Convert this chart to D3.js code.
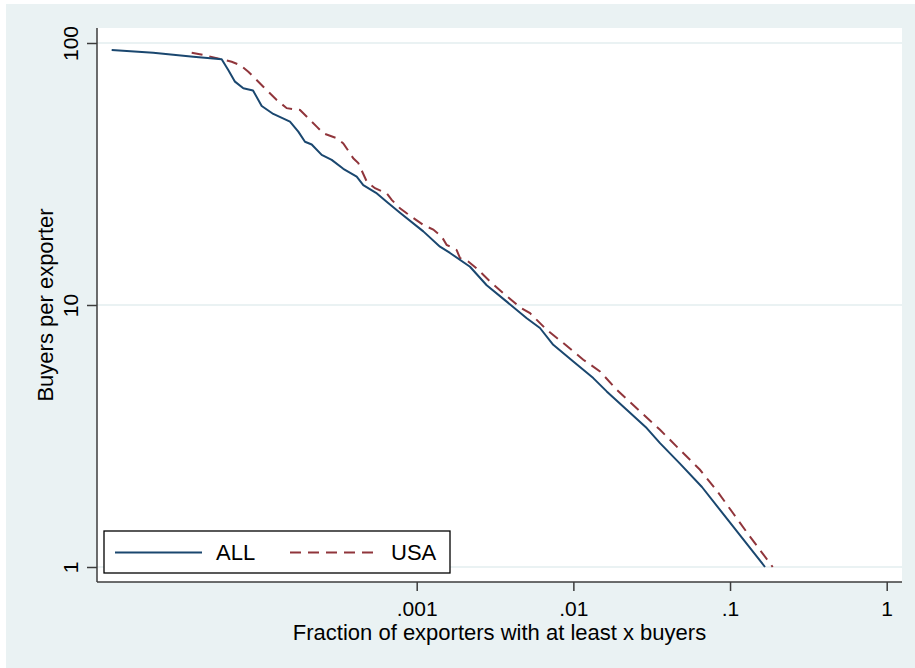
<!DOCTYPE html>
<html>
<head>
<meta charset="utf-8">
<script src="https://cdn.jsdelivr.net/npm/d3@7"></script>
<style>
  html, body { margin: 0; padding: 0; background: #ffffff; }
  svg { display: block; }
  text { font-family: "Liberation Sans", Arial, sans-serif; fill: #000; }
</style>
</head>
<body>
<svg id="chart" width="915" height="668"></svg>
<script>
// Complementary cumulative distribution of buyers per exporter (log-log)
// ALL destinations: fraction of exporters with at least x buyers
const allFraction = [1.13e-5, 2.08e-5, 3.75e-5, 5.69e-5, 6.27e-5, 6.92e-5, 7.82e-5, 9.02e-5,
  1.025e-4, 1.215e-4, 1.553e-4, 1.755e-4, 1.936e-4, 2.137e-4, 2.475e-4, 2.867e-4, 3.40e-4,
  4.14e-4, 4.56e-4, 5.50e-4, 6.43e-4, 7.82e-4, 1.102e-3, 1.408e-3, 1.631e-3, 2.189e-3,
  2.797e-3, 3.754e-3, 5.04e-3, 6.12e-3, 7.44e-3, 9.99e-3, 0.0134, 0.01632, 0.0219, 0.02938,
  0.03573, 0.0479, 0.0662, 0.1672];
const allBuyers = [94.0, 91.8, 88.7, 86.7, 78.9, 71.2, 67.2, 65.9,
  57.5, 53.6, 50.1, 45.9, 42.0, 41.0, 37.4, 35.8, 33.1,
  30.9, 28.7, 26.8, 24.8, 22.5, 19.1, 16.7, 15.8, 14.0,
  11.9, 10.3, 8.9, 8.17, 7.05, 6.09, 5.26, 4.68, 3.98, 3.39,
  2.97, 2.48, 2.02, 1.0];

// USA only
const usaFraction = [3.663e-5, 4.344e-5, 5.69e-5, 6.594e-5, 7.45e-5, 8.42e-5, 1.049e-4, 1.278e-4,
  1.48e-4, 1.8e-4, 2.3e-4, 2.533e-4, 3.086e-4, 3.40e-4, 3.937e-4, 4.239e-4, 4.797e-4, 5.418e-4,
  6.43e-4, 6.926e-4, 7.82e-4, 8.63e-4, 1.102e-3, 1.276e-3, 1.444e-3, 1.554e-3, 1.8e-3, 1.89e-3,
  2.135e-3, 2.415e-3, 2.937e-3, 3.571e-3, 4.564e-3, 5.287e-3, 6.757e-3, 8.62e-3, 0.01157,
  0.01479, 0.01891, 0.02663, 0.03573, 0.0479, 0.0643, 0.0822, 0.1049, 0.1341, 0.1872];
const usaBuyers = [91.8, 90.0, 86.7, 84.8, 82.4, 77.7, 68.1, 60.6,
  56.4, 55.5, 47.96, 45.2, 43.3, 41.4, 36.3, 34.8, 29.6, 27.9,
  26.7, 25.2, 23.4, 22.4, 20.2, 19.4, 18.25, 16.96, 16.2, 15.1,
  14.65, 13.8, 12.3, 11.1, 9.8, 9.31, 8.04, 7.16, 6.18,
  5.58, 4.75, 3.93, 3.34, 2.80, 2.35, 1.96, 1.60, 1.306, 1.0];

const xTicks = [0.001, 0.01, 0.1, 1];
const xTickLabels = [".001", ".01", ".1", "1"];
const yTicks = [1, 10, 100];
const yTickLabels = ["1", "10", "100"];
const seriesNames = ["ALL", "USA"];
const seriesColors = ["#1a476f", "#90353b"];

const svg = d3.select("#chart");
const W = 915, H = 668;

// outer graph region
svg.append("rect").attr("x", 6).attr("y", 4).attr("width", W - 6).attr("height", H - 4)
  .attr("fill", "#eaf2f3");

const plot = { left: 97, right: 902, top: 28, bottom: 582 };

const x = d3.scaleLog().domain([0.001, 1]).range([416.7, 886.7]);
const y = d3.scaleLog().domain([1, 100]).range([567, 43]);

// plot region
svg.append("rect")
  .attr("x", plot.left).attr("y", plot.top)
  .attr("width", plot.right - plot.left).attr("height", plot.bottom - plot.top)
  .attr("fill", "#ffffff");

// horizontal grid lines
svg.append("g").selectAll("line").data(yTicks).join("line")
  .attr("x1", plot.left).attr("x2", plot.right)
  .attr("y1", d => y(d)).attr("y2", d => y(d))
  .attr("stroke", "#eaf2f3").attr("stroke-width", 2);

// data lines
const line = d3.line().x(d => x(d[0])).y(d => y(d[1]));
const allData = allFraction.map((f, i) => [f, allBuyers[i]]);
const usaData = usaFraction.map((f, i) => [f, usaBuyers[i]]);

svg.append("path").datum(usaData)
  .attr("d", line).attr("fill", "none")
  .attr("stroke", seriesColors[1]).attr("stroke-width", 2)
  .attr("stroke-dasharray", "11,7");

svg.append("path").datum(allData)
  .attr("d", line).attr("fill", "none")
  .attr("stroke", seriesColors[0]).attr("stroke-width", 2)
  .attr("stroke-linejoin", "round");

// y axis
const yAxis = d3.axisLeft(y).tickValues(yTicks).tickSize(10).tickPadding(9)
  .tickFormat((d, i) => yTickLabels[i]);
const gy = svg.append("g").attr("transform", `translate(${plot.left},0)`).call(yAxis);
gy.select(".domain").remove();
gy.selectAll(".tick line").attr("stroke", "#3c3c3c").attr("stroke-width", 1.5);
gy.selectAll(".tick text")
  .attr("font-size", 21)
  .attr("font-family", "Liberation Sans, Arial, sans-serif")
  .attr("fill", "#000")
  .attr("text-anchor", "middle")
  .attr("x", null).attr("dy", null)
  .attr("transform", "translate(-19,0) rotate(-90)");
svg.append("line")
  .attr("x1", plot.left).attr("x2", plot.left)
  .attr("y1", plot.top).attr("y2", plot.bottom)
  .attr("stroke", "#3c3c3c").attr("stroke-width", 1.5);

// x axis
const xAxis = d3.axisBottom(x).tickValues(xTicks).tickSize(9).tickPadding(10)
  .tickFormat((d, i) => xTickLabels[i]);
const gx = svg.append("g").attr("transform", `translate(0,${plot.bottom})`).call(xAxis);
gx.select(".domain").remove();
gx.selectAll(".tick line").attr("stroke", "#3c3c3c").attr("stroke-width", 1.5);
gx.selectAll(".tick text")
  .attr("font-size", 21)
  .attr("font-family", "Liberation Sans, Arial, sans-serif")
  .attr("fill", "#000");
svg.append("line")
  .attr("x1", plot.left).attr("x2", plot.right)
  .attr("y1", plot.bottom).attr("y2", plot.bottom)
  .attr("stroke", "#3c3c3c").attr("stroke-width", 1.5);

// axis titles
svg.append("text")
  .attr("x", (plot.left + plot.right) / 2).attr("y", 640)
  .attr("text-anchor", "middle").attr("font-size", 22)
  .text("Fraction of exporters with at least x buyers");

svg.append("text")
  .attr("transform", `translate(53,${(plot.top + plot.bottom) / 2}) rotate(-90)`)
  .attr("text-anchor", "middle").attr("font-size", 22)
  .text("Buyers per exporter");

// legend
const lg = svg.append("g");
lg.append("rect").attr("x", 104).attr("y", 531).attr("width", 346).attr("height", 42)
  .attr("fill", "#ffffff").attr("stroke", "#000").attr("stroke-width", 1.3);
const legendItems = [
  { name: seriesNames[0], color: seriesColors[0], dash: null, x0: 115 },
  { name: seriesNames[1], color: seriesColors[1], dash: "11,7", x0: 290 }
];
legendItems.forEach(it => {
  lg.append("line").attr("x1", it.x0).attr("x2", it.x0 + 87)
    .attr("y1", 552.5).attr("y2", 552.5)
    .attr("stroke", it.color).attr("stroke-width", 2)
    .attr("stroke-dasharray", it.dash);
  lg.append("text").attr("x", it.x0 + 101).attr("y", 560)
    .attr("font-size", 22).text(it.name);
});
</script>
</body>
</html>
